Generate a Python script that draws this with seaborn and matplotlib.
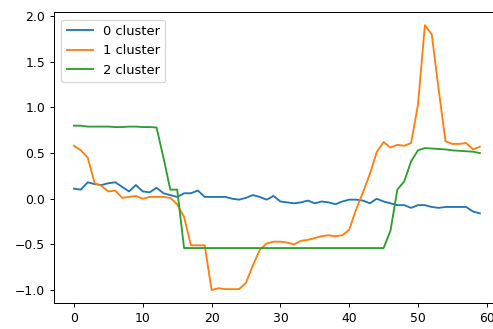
import matplotlib
matplotlib.use("Agg")
import matplotlib.pyplot as plt
import numpy as np
import pandas as pd
import seaborn as sns

x = list(range(60))

cluster0 = [0.11, 0.10, 0.18, 0.16, 0.15, 0.17, 0.18, 0.13, 0.08, 0.15,
            0.08, 0.07, 0.12, 0.06, 0.04, 0.02, 0.06, 0.06, 0.09, 0.02,
            0.02, 0.02, 0.02, 0.00, -0.01, 0.01, 0.04, 0.02, -0.01, 0.03,
            -0.03, -0.04, -0.05, -0.04, -0.02, -0.05, -0.03, -0.04, -0.06, -0.03,
            -0.01, -0.01, -0.02, -0.05, 0.00, -0.03, -0.05, -0.07, -0.07, -0.10,
            -0.07, -0.07, -0.09, -0.10, -0.09, -0.09, -0.09, -0.09, -0.14, -0.16]

cluster1 = [0.58, 0.53, 0.45, 0.17, 0.14, 0.08, 0.09, 0.01, 0.02, 0.03,
            0.00, 0.02, 0.02, 0.02, 0.01, -0.06, -0.20, -0.51, -0.51, -0.51,
            -1.00, -0.98, -0.99, -0.99, -0.99, -0.92, -0.73, -0.56, -0.49, -0.47,
            -0.47, -0.48, -0.50, -0.46, -0.45, -0.43, -0.41, -0.40, -0.41, -0.40,
            -0.34, -0.12, 0.07, 0.27, 0.51, 0.62, 0.56, 0.59, 0.58, 0.61,
            1.03, 1.90, 1.80, 1.20, 0.63, 0.60, 0.60, 0.61, 0.54, 0.57]

cluster2 = [0.80, 0.80, 0.79, 0.79, 0.79, 0.79, 0.785, 0.785, 0.79, 0.79,
            0.785, 0.785, 0.78, 0.45, 0.10, 0.10] + [-0.54] * 30 + \
           [-0.35, 0.10, 0.19, 0.41, 0.53, 0.555, 0.55, 0.545, 0.54, 0.53,
            0.525, 0.52, 0.515, 0.50]

labels = ["0 cluster", "1 cluster", "2 cluster"]
colors = ["#1f77b4", "#ff7f0e", "#2ca02c"]

df = pd.concat([
    pd.DataFrame({"x": x, "y": vals, "cluster": lab})
    for vals, lab in zip([cluster0, cluster1, cluster2], labels)
], ignore_index=True)

dpi = 89
fig = plt.figure(figsize=(493 / dpi, 329 / dpi), dpi=dpi)
W, H = 493, 329
left, right, bottom, top = 53.7, 500.2, 303.3, 12.0
ax = fig.add_axes([left / W, (H - bottom) / H, (right - left) / W, (bottom - top) / H])

sns.lineplot(data=df, x="x", y="y", hue="cluster", palette=colors, ax=ax,
             linewidth=1.5)
ax.set_xlabel("")
ax.set_ylabel("")
ax.set_xticks([0, 10, 20, 30, 40, 50, 60])
ax.set_yticks([-1.0, -0.5, 0.0, 0.5, 1.0, 1.5, 2.0])
ax.set_xlim(-2.95, 61.95)
ax.set_ylim(-1.145, 2.045)
ax.legend(loc="upper left", title=None, fontsize=10.5, borderaxespad=0.6)

fig.savefig("out.png", dpi=dpi)
